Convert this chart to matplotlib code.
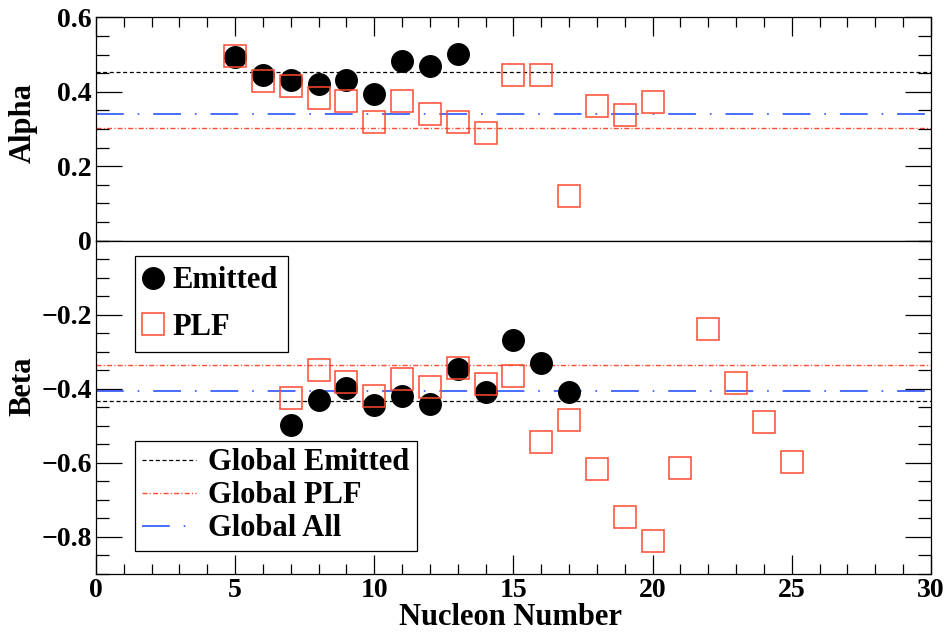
import matplotlib
matplotlib.use("Agg")
import matplotlib.pyplot as plt
from matplotlib.ticker import MultipleLocator, FixedLocator
from matplotlib.lines import Line2D

plt.rcParams['font.family'] = ['Liberation Serif', 'DejaVu Serif']
plt.rcParams['font.weight'] = 'bold'
plt.rcParams['axes.labelweight'] = 'bold'
plt.rcParams['lines.scale_dashes'] = False

# values
x_alpha_emit = [5, 6, 7, 8, 9, 10, 11, 12, 13]
alpha_emit = [0.495, 0.444, 0.431, 0.420, 0.431, 0.395, 0.482, 0.469, 0.503]
x_alpha_plf = [5, 6, 7, 8, 9, 10, 11, 12, 13, 14, 15, 16, 17, 18, 19, 20]
alpha_plf = [0.496, 0.429, 0.417, 0.384, 0.376, 0.320, 0.376, 0.341, 0.320, 0.289,
             0.444, 0.444, 0.120, 0.361, 0.338, 0.373]

x_beta_emit = [7, 8, 9, 10, 11, 12, 13, 14, 15, 16, 17]
beta_emit = [-0.498, -0.432, -0.399, -0.444, -0.419, -0.441, -0.348, -0.408,
             -0.270, -0.331, -0.408]
x_beta_plf = [7, 8, 9, 10, 11, 12, 13, 14, 15, 16, 17, 18, 19, 20, 21, 22, 23, 24, 25]
beta_plf = [-0.426, -0.349, -0.381, -0.419, -0.374, -0.396, -0.343, -0.388, -0.366,
            -0.543, -0.486, -0.618, -0.747, -0.811, -0.614, -0.238, -0.385, -0.490, -0.599]

alpha_global = {'emit': 0.452, 'plf': 0.302, 'all': 0.341}
beta_global = {'emit': -0.433, 'plf': -0.336, 'all': -0.407}

red = '#ff4a30'
blue = '#4a6cff'
ls_emit = (0, (2.9, 1.9))
ls_plf = (0, (3.6, 1.6, 0.8, 1.6))
ls_all = (0, (20, 10, 1.2, 10))

fig = plt.figure(figsize=(9.51, 6.33), dpi=100)
ax_a = fig.add_axes([0.1009, 0.620, 0.878, 0.3524])
ax_b = fig.add_axes([0.1009, 0.0937, 0.878, 0.5263])


def draw(ax, xe, ye, xp, yp, glob):
    ax.axhline(glob['emit'], color='black', lw=0.9, ls=ls_emit, zorder=1)
    ax.axhline(glob['plf'], color=red, lw=1.0, ls=ls_plf, zorder=1)
    ax.axhline(glob['all'], color=blue, lw=1.4, ls=ls_all, zorder=1)
    ax.plot(xe, ye, 'o', ms=15.5, color='black', zorder=3)
    ax.plot(xp, yp, 's', ms=15.5, mfc='none', mec=red, mew=1.1, zorder=4)
    ax.set_xlim(0, 30)
    for s in ax.spines.values():
        s.set_linewidth(0.9)
    ax.xaxis.set_major_locator(MultipleLocator(5))
    ax.xaxis.set_minor_locator(MultipleLocator(1))
    ax.yaxis.set_minor_locator(MultipleLocator(0.05))
    ax.tick_params(axis='x', which='major', direction='in', length=13.7, width=0.9)
    ax.tick_params(axis='x', which='minor', direction='in', length=7, width=0.9)
    ax.tick_params(axis='y', which='major', direction='in', length=18.7, width=0.9,
                   left=True, right=True, labelsize=20, pad=3)
    ax.tick_params(axis='y', which='minor', direction='in', length=9.4, width=0.9,
                   left=True, right=True)


draw(ax_a, x_alpha_emit, alpha_emit, x_alpha_plf, alpha_plf, alpha_global)
draw(ax_b, x_beta_emit, beta_emit, x_beta_plf, beta_plf, beta_global)

ax_a.set_ylim(0, 0.6)
ax_a.yaxis.set_major_locator(FixedLocator([0, 0.2, 0.4, 0.6]))
ax_a.set_yticklabels(['0', '0.2', '0.4', '0.6'])
ax_a.tick_params(axis='x', which='both', top=True, bottom=False,
                 labelbottom=False, labeltop=False)

ax_b.set_ylim(-0.9, 0)
ax_b.yaxis.set_major_locator(FixedLocator([-0.8, -0.6, -0.4, -0.2]))
ax_b.set_yticklabels(['\u22120.8', '\u22120.6', '\u22120.4', '\u22120.2'])
ax_b.tick_params(axis='x', which='both', top=False, bottom=True, labelsize=20, pad=3)

ax_a.set_ylabel('Alpha', fontsize=22, va='center')
ax_a.yaxis.set_label_coords(-0.0874, 0.526)
ax_b.set_ylabel('Beta', fontsize=22, va='center')
ax_b.yaxis.set_label_coords(-0.0874, 0.564)
ax_b.set_xlabel('Nucleon Number', fontsize=22, va='baseline')
ax_b.xaxis.set_label_coords(0.497, -0.154)

h1 = [Line2D([], [], ls='none', marker='o', ms=15.5, color='black'),
      Line2D([], [], ls='none', marker='s', ms=15.5, mfc='none', mec=red, mew=1.1)]
leg1 = fig.legend(h1, ['Emitted', 'PLF'], loc='upper left',
                  bbox_to_anchor=(135 / 951, 1 - 256 / 633), borderaxespad=0,
                  fontsize=22, fancybox=False, edgecolor='black', framealpha=1,
                  borderpad=0.34, handlelength=0.5, handletextpad=0.38,
                  labelspacing=0.57)
leg1.get_frame().set_linewidth(0.9)

h2 = [Line2D([], [], color='black', lw=0.9, ls=ls_emit),
      Line2D([], [], color=red, lw=1.0, ls=ls_plf),
      Line2D([], [], color=blue, lw=1.4, ls=ls_all)]
leg2 = fig.legend(h2, ['Global Emitted', 'Global PLF', 'Global All'], loc='upper left',
                  bbox_to_anchor=(135 / 951, 1 - 441 / 633), borderaxespad=0,
                  fontsize=22, fancybox=False, edgecolor='black', framealpha=1,
                  borderpad=0.24, handlelength=1.75, handletextpad=0.4,
                  labelspacing=0.13)
leg2.get_frame().set_linewidth(0.9)

fig.savefig('out.png', dpi=100)
